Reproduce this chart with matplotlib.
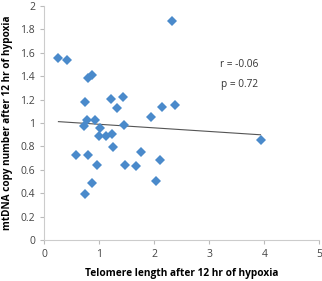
"""
Telomere length vs mtDNA copy number after 12 hr of hypoxia
"""

import matplotlib
matplotlib.use("Agg")
import matplotlib.pyplot as plt
import numpy as np

telomere = np.array([
    0.26, 0.41, 2.33, 0.80, 0.87, 0.75, 1.21, 1.44, 1.33, 2.14, 2.38,
    1.95, 0.78, 0.93, 0.72, 1.02, 1.45, 1.00, 1.13, 1.23, 1.26, 3.93,
    0.58, 0.79, 1.76, 2.11, 0.96, 1.46, 1.67, 0.87, 2.03, 0.75,
])
mtdna = np.array([
    1.553, 1.541, 1.875, 1.385, 1.413, 1.177, 1.202, 1.225, 1.128, 1.134, 1.151,
    1.054, 1.028, 1.028, 0.977, 0.954, 0.980, 0.892, 0.892, 0.903, 0.795, 0.852,
    0.724, 0.726, 0.749, 0.684, 0.641, 0.644, 0.635, 0.484, 0.501, 0.390,
])
stats_text = ["r = -0.06", "p = 0.72"]

plt.rcParams["font.family"] = ["Open Sans", "DejaVu Sans"]
fig = plt.figure(figsize=(3.22, 2.81), dpi=100)
ax = fig.add_axes([0.137, 0.146, 0.855, 0.833])

ax.plot(telomere, mtdna, "D", color="#4A8ACB", markersize=4.6, markeredgewidth=0)

# linear trend line over the data range
slope, icpt = np.polyfit(telomere, mtdna, 1)
xs = np.array([telomere.min(), telomere.max()])
ax.plot(xs, slope * xs + icpt, color="#555555", linewidth=0.8, zorder=1)

ax.text(3.55, 1.50, stats_text[0], fontsize=7.3, color="#333333", ha="center", va="center")
ax.text(3.55, 1.33, stats_text[1], fontsize=7.3, color="#333333", ha="center", va="center")

ax.set_xlim(0, 5)
ax.set_ylim(0, 2)
ax.set_xticks(range(6))
ax.set_yticks(np.arange(0, 2.01, 0.2))
ax.set_yticklabels(["0", "0.2", "0.4", "0.6", "0.8", "1", "1.2", "1.4", "1.6", "1.8", "2"])
ax.tick_params(labelsize=7.5, colors="#bbbbbb", labelcolor="#444444", length=3, width=0.8)

for side in ["top", "right"]:
    ax.spines[side].set_visible(False)
for side in ["left", "bottom"]:
    ax.spines[side].set_color("#cccccc")
    ax.spines[side].set_linewidth(0.8)

ax.set_xlabel("Telomere length after 12 hr of hypoxia", fontsize=7.3, fontweight="bold", labelpad=6)
ax.set_ylabel("mtDNA copy number after 12 hr of hypoxia", fontsize=7.2, fontweight="bold", labelpad=5)

fig.savefig("out.png", dpi=100)
